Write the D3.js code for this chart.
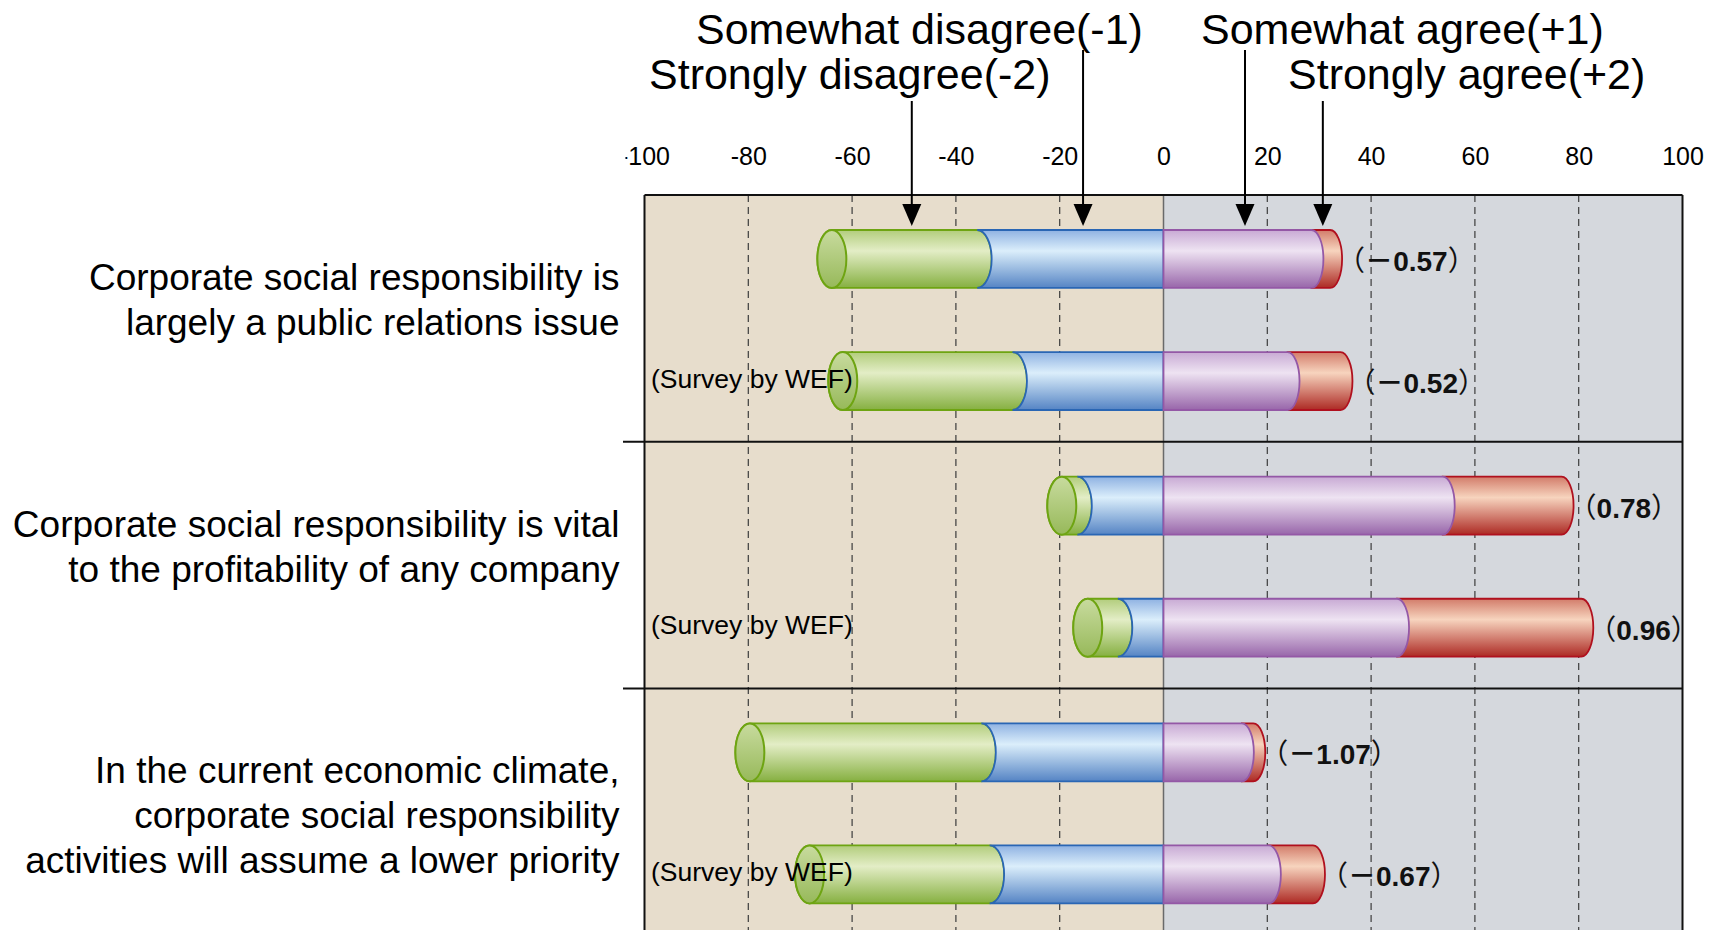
<!DOCTYPE html>
<html><head><meta charset="utf-8">
<script src="https://cdn.jsdelivr.net/npm/d3@7"></script>
<style>html,body{margin:0;padding:0;background:#fff;overflow:hidden}</style>
</head><body>
<svg id="chart" width="1719" height="930"></svg>
<script>
// ---------------- DATA ----------------
const questionLabels = [
  ["Corporate social responsibility is", "largely a public relations issue"],
  ["Corporate social responsibility is vital", "to the profitability of any company"],
  ["In the current economic climate,", "corporate social responsibility", "activities will assume a lower priority"]
];
const surveyNote = "(Survey by WEF)";
const responseLabels = ["Strongly disagree(-2)", "Somewhat disagree(-1)", "Somewhat agree(+1)", "Strongly agree(+2)"];
// one entry per bar: [Q1 this survey, Q1 WEF, Q2 this survey, Q2 WEF, Q3 this survey, Q3 WEF]
const barQuestion = [0, 0, 1, 1, 2, 2];
const barIsWEF = [false, true, false, true, false, true];
const stronglyDisagree = [28.0, 32.7, 3.0, 5.8, 44.6, 34.7];
const somewhatDisagree = [35.9, 29.1, 16.6, 8.8, 35.1, 33.5];
const somewhatAgree    = [28.5, 23.9, 53.8, 45.0, 15.1, 20.3];
const stronglyAgree    = [3.6, 10.2, 22.9, 35.5, 2.2, 8.5];
const meanScores       = [-0.57, -0.52, 0.78, 0.96, -1.07, -0.67];
const xTicks = [-100, -80, -60, -40, -20, 0, 20, 40, 60, 80, 100];
const arrowTargets = [-48.5, -15.5, 15.7, 30.7]; // where each response label points (first bar)

// ---------------- LAYOUT ----------------
const W = 1719, H = 930;
const plotTop = 195, sectionH = 246.7, plotLeft = 644.5, plotRight = 1682.5;
const FONT = "'Liberation Sans', Arial, Helvetica, sans-serif";
const CJK = "'Noto Sans CJK JP', 'Noto Sans CJK SC', sans-serif";

const svg = d3.select("#chart");
const defs = svg.append("defs");

const x = d3.scaleLinear().domain([-100, 100]).range([plotLeft, plotRight]);
const ySection = d3.scaleBand().domain(d3.range(questionLabels.length))
  .range([plotTop, plotTop + sectionH * questionLabels.length]).padding(0);
const ySlot = d3.scaleBand().domain([0, 1]).range([35, 215]).paddingInner(0.525);

const segStyles = [
  {stroke: "#6ea412", top: "#b2cd7c", light: "#e3edc6", bottom: "#86b041"}, // strongly disagree
  {stroke: "#2a66b4", top: "#8fb2e2", light: "#dbeefb", bottom: "#5584c4"}, // somewhat disagree
  {stroke: "#9458a6", top: "#c8aad4", light: "#eee3f2", bottom: "#9866aa"}, // somewhat agree
  {stroke: "#b0101e", top: "#d27c6a", light: "#f7d4be", bottom: "#ad2a24"}  // strongly agree
];
segStyles.forEach((s, i) => {
  const g = defs.append("linearGradient").attr("id", "grad" + i)
    .attr("x1", 0).attr("y1", 0).attr("x2", 0).attr("y2", 1);
  g.append("stop").attr("offset", "0").attr("stop-color", s.top);
  g.append("stop").attr("offset", "0.36").attr("stop-color", s.light);
  g.append("stop").attr("offset", "1").attr("stop-color", s.bottom);
});
{
  const g = defs.append("linearGradient").attr("id", "capGrad")
    .attr("x1", 0).attr("y1", 0).attr("x2", 0).attr("y2", 1);
  g.append("stop").attr("offset", "0").attr("stop-color", "#c8db9e");
  g.append("stop").attr("offset", "1").attr("stop-color", "#97b95a");
}
defs.append("clipPath").attr("id", "tickClip").append("rect")
  .attr("x", 625.5).attr("y", -200).attr("width", 1200).attr("height", 400);

// backgrounds
svg.append("rect").attr("x", x(-100)).attr("y", plotTop).attr("width", x(0) - x(-100))
  .attr("height", H - plotTop + 20).attr("fill", "#e7ddcc");
svg.append("rect").attr("x", x(0)).attr("y", plotTop).attr("width", x(100) - x(0))
  .attr("height", H - plotTop + 20).attr("fill", "#d5d8dd");

// grid lines
svg.append("g").selectAll("line").data(xTicks.filter(t => t !== 0 && Math.abs(t) !== 100)).join("line")
  .attr("x1", d => x(d)).attr("x2", d => x(d)).attr("y1", plotTop).attr("y2", H + 20)
  .attr("stroke", "#3c3c3c").attr("stroke-width", 1.2).attr("stroke-dasharray", "7,5");
svg.append("line").attr("x1", x(0)).attr("x2", x(0)).attr("y1", plotTop).attr("y2", H + 20)
  .attr("stroke", "#6a6a6a").attr("stroke-width", 1.5);

// tick labels
const axisG = svg.append("g").attr("transform", "translate(0,165)").attr("clip-path", "url(#tickClip)")
  .call(d3.axisTop(x).tickValues(xTicks).tickSize(0).tickPadding(0).tickFormat(d => String(d)));
axisG.select(".domain").remove();
axisG.attr("font-family", FONT).attr("font-size", 25);
axisG.selectAll("text").attr("fill", "#000").attr("dy", 0);

// borders / separators
const frame = svg.append("g").attr("stroke", "#111").attr("stroke-width", 2).attr("fill", "none");
frame.append("line").attr("x1", plotLeft).attr("x2", plotRight).attr("y1", plotTop).attr("y2", plotTop);
frame.append("line").attr("x1", plotLeft).attr("x2", plotLeft).attr("y1", plotTop).attr("y2", H + 20);
frame.append("line").attr("x1", plotRight).attr("x2", plotRight).attr("y1", plotTop).attr("y2", H + 20);
frame.selectAll("line.sep").data(d3.range(1, questionLabels.length)).join("line").attr("class", "sep")
  .attr("x1", 623).attr("x2", plotRight).attr("y1", d => ySection(d)).attr("y2", d => ySection(d));

// cylinder segment path
function segPath(x0, x1, cy, rxL, rxR, ry, left, right) {
  const t = cy - ry, b = cy + ry;
  let p = `M${x0},${t}L${x1},${t}`;
  p += right === "convex" ? `A${rxR},${ry} 0 0 1 ${x1},${b}` : `L${x1},${b}`;
  p += `L${x0},${b}`;
  if (left === "convex") p += `A${rxL},${ry} 0 0 1 ${x0},${t}`;
  else if (left === "concave") p += `A${rxL},${ry} 0 0 0 ${x0},${t}`;
  else p += `L${x0},${t}`;
  return p + "Z";
}

const rxNeg = 14.5, rxPos = 12;
const bars = d3.range(meanScores.length).map(i => ({
  i, q: barQuestion[i], slot: barIsWEF[i] ? 1 : 0,
  sd: stronglyDisagree[i], swd: somewhatDisagree[i], swa: somewhatAgree[i], sa: stronglyAgree[i],
  score: meanScores[i]
}));

const barG = svg.append("g");
bars.forEach(d => {
  const cy = ySection(d.q) + ySlot(d.slot) + ySlot.bandwidth() / 2;
  const ry = ySlot.bandwidth() / 2;
  const g = barG.append("g");
  const xL = x(-(d.sd + d.swd)), xB = x(-d.swd), x0 = x(0), xP = x(d.swa), xE = x(d.swa + d.sa);
  const sw = 1.8;
  // strongly disagree (green)
  g.append("path").attr("d", segPath(xL, xB, cy, rxNeg, rxNeg, ry, "convex", "convex"))
    .attr("fill", "url(#grad0)").attr("stroke", segStyles[0].stroke).attr("stroke-width", sw);
  g.append("ellipse").attr("cx", xL).attr("cy", cy).attr("rx", rxNeg).attr("ry", ry)
    .attr("fill", "url(#capGrad)").attr("stroke", segStyles[0].stroke).attr("stroke-width", 2);
  // somewhat disagree (blue)
  g.append("path").attr("d", segPath(xB, x0, cy, rxNeg, rxNeg, ry, "concave", "flat"))
    .attr("fill", "url(#grad1)").attr("stroke", segStyles[1].stroke).attr("stroke-width", sw);
  // strongly agree (red)
  g.append("path").attr("d", segPath(xP, xE, cy, rxPos, rxPos, ry, "flat", "convex"))
    .attr("fill", "url(#grad3)").attr("stroke", segStyles[3].stroke).attr("stroke-width", sw);
  // somewhat agree (purple)
  g.append("path").attr("d", segPath(x0, xP, cy, rxPos, rxPos, ry, "flat", "convex"))
    .attr("fill", "url(#grad2)").attr("stroke", segStyles[2].stroke).attr("stroke-width", sw);

  // score label
  const t = svg.append("text").attr("x", xE + 7).attr("y", cy + 12).attr("font-size", 28).attr("fill", "#111");
  t.append("tspan").attr("font-family", CJK).attr("font-weight", 400).text("（");
  if (d.score < 0) t.append("tspan").attr("font-family", CJK).attr("font-weight", 700).text("－");
  t.append("tspan").attr("font-family", FONT).attr("font-weight", 700).text(Math.abs(d.score).toFixed(2));
  t.append("tspan").attr("font-family", CJK).attr("font-weight", 400).text("）");

  if (barIsWEF[d.i]) {
    svg.append("text").attr("x", 651).attr("y", cy + 6.5).attr("font-family", FONT)
      .attr("font-size", 26.5).attr("fill", "#000").text(surveyNote);
  }
});

// question labels
questionLabels.forEach((lines, qi) => {
  const t = svg.append("text").attr("text-anchor", "end").attr("font-family", FONT)
    .attr("font-size", 37).attr("fill", "#000");
  lines.forEach((ln, k) => {
    t.append("tspan").attr("x", 619.5).attr("y", ySection(qi) + 95 + k * 45).text(ln);
  });
});

// response labels with arrows
const legendLayout = [{tx: 649, row: 1}, {tx: 696, row: 0}, {tx: 1201, row: 0}, {tx: 1288, row: 1}];
const rowBaseline = [44, 89], arrowTop = [50, 101];
responseLabels.forEach((lab, i) => {
  const L = legendLayout[i];
  svg.append("text").attr("x", L.tx).attr("y", rowBaseline[L.row]).attr("font-family", FONT)
    .attr("font-size", 43).attr("fill", "#000").text(lab);
  const ax = x(arrowTargets[i]);
  svg.append("line").attr("x1", ax).attr("x2", ax).attr("y1", arrowTop[L.row]).attr("y2", 208)
    .attr("stroke", "#000").attr("stroke-width", 2);
  svg.append("path").attr("d", `M${ax - 9.5},204L${ax + 9.5},204L${ax},226Z`).attr("fill", "#000");
});
</script>
</body></html>
